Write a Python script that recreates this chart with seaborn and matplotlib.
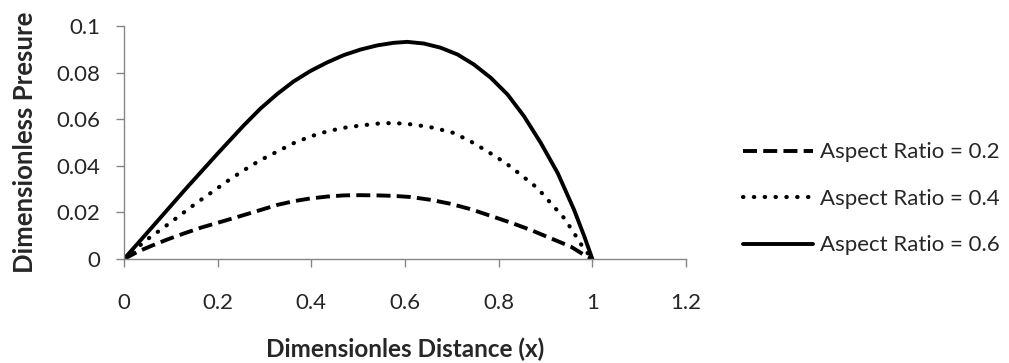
import matplotlib
matplotlib.use("Agg")
import matplotlib.pyplot as plt
import seaborn as sns
import pandas as pd

# values (each curve traced at its own x points)
x_ar02 = [0.0, 0.030, 0.058, 0.094, 0.130, 0.165, 0.201, 0.240, 0.291, 0.327, 0.362, 0.398,
          0.434, 0.469, 0.505, 0.541, 0.576, 0.612, 0.655, 0.697, 0.740, 0.783, 0.826,
          0.868, 0.911, 0.954, 0.983, 1.0]
p_ar02 = [0.0, 0.0032, 0.0056, 0.0085, 0.0111, 0.0135, 0.0156, 0.0179, 0.0210, 0.0232, 0.0248,
          0.0260, 0.0268, 0.0273, 0.0274, 0.0273, 0.0271, 0.0266, 0.0254, 0.0237, 0.0214,
          0.0185, 0.0156, 0.0125, 0.0089, 0.0053, 0.0017, 0.0]

x_ar04 = [0.0, 0.048, 0.080, 0.116, 0.151, 0.187, 0.222, 0.255, 0.291, 0.327, 0.362, 0.398,
          0.434, 0.469, 0.505, 0.541, 0.576, 0.619, 0.662, 0.704, 0.740, 0.776, 0.815,
          0.847, 0.883, 0.911, 0.940, 0.961, 0.979, 1.0]
p_ar04 = [0.0, 0.0082, 0.0128, 0.0182, 0.0235, 0.0286, 0.0336, 0.0380, 0.0424, 0.0461, 0.0497,
          0.0526, 0.0548, 0.0563, 0.0573, 0.0581, 0.0584, 0.0577, 0.0563, 0.0541, 0.0505,
          0.0462, 0.0412, 0.0362, 0.0304, 0.0240, 0.0175, 0.0111, 0.0053, 0.0]

x_ar06 = [0.0, 0.058, 0.130, 0.201, 0.255, 0.291, 0.327, 0.362, 0.398,
          0.434, 0.469, 0.505, 0.541, 0.576, 0.605, 0.640, 0.676, 0.712, 0.747, 0.783,
          0.819, 0.854, 0.890, 0.926, 0.961, 0.983, 1.0]
p_ar06 = [0.0, 0.0132, 0.0297, 0.0455, 0.0572, 0.0645, 0.0708, 0.0762, 0.0807,
          0.0844, 0.0875, 0.0899, 0.0917, 0.0928, 0.0932, 0.0925, 0.0907, 0.0878,
          0.0835, 0.0778, 0.0706, 0.0613, 0.0498, 0.0369, 0.0211, 0.0096, 0.0]

labels = ["Aspect Ratio = 0.2", "Aspect Ratio = 0.4", "Aspect Ratio = 0.6"]

frames = []
for lab, xs, ys in zip(labels, [x_ar02, x_ar04, x_ar06], [p_ar02, p_ar04, p_ar06]):
    frames.append(pd.DataFrame({"x": xs, "p": ys, "series": lab}))
df = pd.concat(frames, ignore_index=True)

sns.set_style("white")
plt.rcParams["font.family"] = ["Lato", "DejaVu Sans"]

fig = plt.figure(figsize=(10.09, 3.63), dpi=100)
ax = fig.add_axes([0.1229, 0.2865, 0.5570, 0.6418])

dashes = {labels[0]: (3.6, 1.6), labels[1]: (0.1, 2.5), labels[2]: ""}
sns.lineplot(data=df, x="x", y="p", hue="series", style="series", sort=False,
             palette=["black"] * 3, dashes=dashes, linewidth=2.8, ax=ax,
             legend=False, estimator=None)
lines = ax.get_lines()
lines[1].set_dash_capstyle("round")
lines[1].set_linewidth(3.0)

ax.set_xlim(0, 1.2)
ax.set_ylim(0, 0.1)
ax.set_xticks([0, 0.2, 0.4, 0.6, 0.8, 1.0, 1.2])
ax.set_xticklabels(["0", "0.2", "0.4", "0.6", "0.8", "1", "1.2"])
ax.set_yticks([0, 0.02, 0.04, 0.06, 0.08, 0.1])
ax.set_yticklabels(["0", "0.02", "0.04", "0.06", "0.08", "0.1"])
ax.tick_params(axis="x", direction="out", length=5.8, width=1, color="#868686",
               pad=19, labelsize=16, labelcolor="#262626", bottom=True)
ax.tick_params(axis="y", direction="out", length=5.8, width=1, color="#868686",
               pad=11, labelsize=16, labelcolor="#262626", left=True)
for side in ["top", "right"]:
    ax.spines[side].set_visible(False)
for side in ["left", "bottom"]:
    ax.spines[side].set_color("#868686")
    ax.spines[side].set_linewidth(1)

ax.set_xlabel("Dimensionles Distance (x)", fontsize=17.5, fontweight="bold",
              labelpad=17, color="#262626")
ax.set_ylabel("Dimensionless Presure", fontsize=18.5, fontweight="bold",
              labelpad=14, color="#262626")

# legend built from the drawn lines
leg = fig.legend(lines[:3], labels, loc="center left",
                 bbox_to_anchor=(0.728, 0.452), frameon=False, fontsize=16,
                 handlelength=3.15, handletextpad=0.3, labelspacing=1.19,
                 borderaxespad=0)
for t in leg.get_texts():
    t.set_color("#262626")

fig.savefig("out.png", dpi=100)
